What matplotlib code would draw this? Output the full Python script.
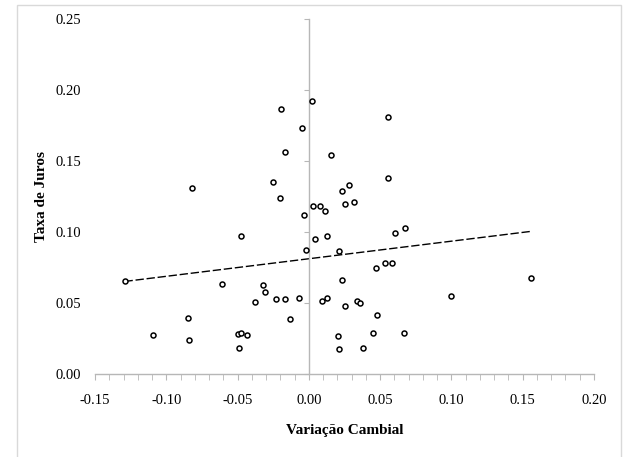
import numpy as np
from matplotlib import pyplot as plt
from matplotlib.patches import Rectangle
from matplotlib.ticker import MultipleLocator

# data
variacao_cambial = [-0.1293, -0.1096, -0.0849, -0.0844, -0.0823, -0.0610, -0.0500, -0.0479,
                    -0.0491, -0.0435, -0.0479, -0.0379, -0.0325, -0.0311, -0.0248, -0.0227,
                    -0.0203, -0.0194, -0.0168, -0.0164, -0.0133, -0.0072, -0.0049, -0.0033,
                    -0.0022, 0.0023, 0.0026, 0.0040, 0.0077, 0.0110, 0.0089, 0.0124,
                    0.0126, 0.0152, 0.0206, 0.0210, 0.0208, 0.0229, 0.0234, 0.0252,
                    0.0252, 0.0281, 0.0316, 0.0339, 0.0358, 0.0379, 0.0451, 0.0472,
                    0.0475, 0.0535, 0.0556, 0.0556, 0.0584, 0.0605, 0.0666, 0.0673,
                    0.0998, 0.1555]
taxa_juros = [0.0657, 0.0272, 0.0392, 0.0239, 0.1308, 0.0636, 0.0280, 0.0287,
              0.0183, 0.0272, 0.0974, 0.0509, 0.0627, 0.0575, 0.1352, 0.0528,
              0.1237, 0.1864, 0.0526, 0.1563, 0.0385, 0.0533, 0.1732, 0.1122,
              0.0874, 0.1923, 0.1181, 0.0953, 0.1183, 0.1146, 0.0516, 0.0537,
              0.0970, 0.1542, 0.0265, 0.0174, 0.0864, 0.0662, 0.1291, 0.1197,
              0.0481, 0.1331, 0.1209, 0.0514, 0.0502, 0.0183, 0.0291, 0.0744,
              0.0413, 0.0780, 0.1810, 0.1380, 0.0784, 0.0993, 0.0291, 0.1026,
              0.0549, 0.0678]

x_ticks = [-0.15, -0.10, -0.05, 0.00, 0.05, 0.10, 0.15, 0.20]
y_ticks = [0.00, 0.05, 0.10, 0.15, 0.20, 0.25]

plt.rcParams['font.family'] = ['Liberation Serif', 'DejaVu Serif']
plt.rcParams['axes.unicode_minus'] = False

fig = plt.figure(figsize=(6.31, 4.57), dpi=100)
fig.patches.append(Rectangle((17 / 631, -0.1), 604 / 631, 1.1 - 5 / 457,
                             transform=fig.transFigure, fill=False,
                             edgecolor='#d9d9d9', linewidth=1))
ax = fig.add_axes([95 / 631, 1 - 374 / 457, 499 / 631, 355 / 457])

x = np.array(variacao_cambial)
y = np.array(taxa_juros)
ax.plot(x, y, 'o', ms=3.6, mfc='white', mec='black', mew=1.1, zorder=3)

# linear trend line over the data range
coef = np.polyfit(x, y, 1)
xs = np.array([x.min(), x.max()])
ax.plot(xs, np.polyval(coef, xs), color='black', lw=1, ls=(0, (6, 2)), zorder=2)

ax.set_xlim(-0.15, 0.20)
ax.set_ylim(0, 0.25)
ax.set_xticks(x_ticks)
ax.set_xticklabels([f'{v:.2f}' for v in x_ticks])
ax.xaxis.set_minor_locator(MultipleLocator(0.01))
ax.set_yticks(y_ticks)

for side in ['top', 'right']:
    ax.spines[side].set_visible(False)
ax.spines['left'].set_position(('data', 0))
for side in ['left', 'bottom']:
    ax.spines[side].set_color('#b7b7b7')
    ax.spines[side].set_linewidth(1)

ax.tick_params(axis='x', which='both', direction='out', length=4.5, color='#b7b7b7',
               labelsize=10.5, pad=10)
ax.tick_params(axis='y', direction='out', length=3.5, color='#b7b7b7', labelleft=False)

# y labels sit at the left edge of the plot, not on the axis line
sec = ax.secondary_yaxis('left')
sec.spines['left'].set_visible(False)
sec.set_yticks(y_ticks)
sec.set_yticklabels([f'{v:.2f}' for v in y_ticks])
sec.tick_params(length=0, labelsize=10.5, pad=10)

ax.set_xlabel('Variação Cambial', fontsize=11, fontweight='bold', labelpad=12)
ax.set_ylabel('Taxa de Juros', fontsize=11, fontweight='bold')
ax.yaxis.set_label_coords(-0.094, 0.5)

fig.savefig('out.png', dpi=100)
